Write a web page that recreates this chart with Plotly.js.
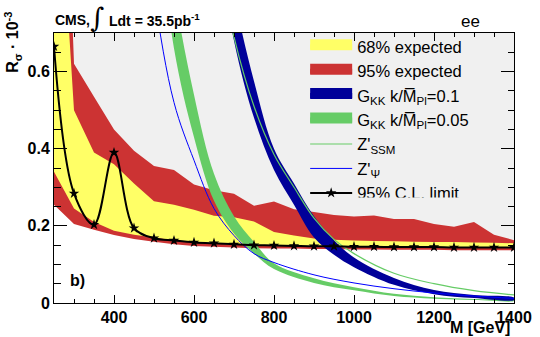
<!DOCTYPE html>
<html>
<head>
<meta charset="utf-8">
<script src="https://cdn.plot.ly/plotly-3.0.1.min.js"></script>
<style>
  html, body { margin: 0; padding: 0; background: white; }
  #chart { width: 540px; height: 337px; }
</style>
</head>
<body>
<div id="chart"></div>
<script>
// observed 95% CL limit (ee channel)
var obsMass  = [250, 300, 350, 400, 450, 500, 550, 600, 650, 700, 750, 800, 850, 900, 950, 1000, 1050, 1100, 1150, 1200, 1250, 1300, 1350, 1400];
var obsLimit = [0.665, 0.284, 0.203, 0.39, 0.194, 0.168, 0.162, 0.157, 0.155, 0.152, 0.150, 0.149, 0.148, 0.147, 0.147, 0.146, 0.146, 0.145, 0.145, 0.145, 0.144, 0.144, 0.144, 0.144];

// expected limit bands
var expMass = [250, 300, 350, 400, 450, 500, 550, 600, 650, 700, 750, 800, 850, 900, 950, 1000, 1050, 1100, 1150, 1200, 1250, 1300, 1350, 1400];
var exp95Hi = [2.0, 0.62, 0.535, 0.45, 0.395, 0.355, 0.345, 0.307, 0.292, 0.283, 0.252, 0.263, 0.243, 0.236, 0.228, 0.224, 0.227, 0.218, 0.218, 0.205, 0.198, 0.21, 0.177, 0.163];
var exp68Hi = [1.33, 0.50, 0.39, 0.36, 0.31, 0.264, 0.255, 0.242, 0.226, 0.222, 0.211, 0.184, 0.175, 0.167, 0.164, 0.162, 0.161, 0.16, 0.159, 0.158, 0.158, 0.157, 0.156, 0.155];
var exp68Lo = [0.34, 0.245, 0.21, 0.187, 0.177, 0.17, 0.163, 0.157, 0.154, 0.151, 0.149, 0.148, 0.147, 0.147, 0.146, 0.146, 0.145, 0.145, 0.145, 0.145, 0.144, 0.144, 0.144, 0.144];
var exp95Lo = [0.255, 0.205, 0.19, 0.176, 0.166, 0.159, 0.152, 0.148, 0.146, 0.144, 0.142, 0.141, 0.141, 0.14, 0.14, 0.139, 0.139, 0.138, 0.138, 0.138, 0.137, 0.137, 0.137, 0.137];

// RS graviton k/Mpl = 0.05
var gkk05Mass = [500, 550, 600, 650, 700, 750, 800, 900, 1000, 1100, 1200, 1300, 1400];
var gkk05Lo   = [1.1, 0.66, 0.43, 0.265, 0.18, 0.128, 0.088, 0.052, 0.033, 0.018, 0.011, 0.0075, 0.005];
var gkk05Hi   = [1.35, 0.82, 0.54, 0.335, 0.225, 0.158, 0.103, 0.064, 0.041, 0.024, 0.015, 0.0105, 0.007];

// RS graviton k/Mpl = 0.1
var gkk01Mass = [600, 650, 700, 750, 800, 850, 900, 950, 1000, 1100, 1200, 1300, 1400];
var gkk01Lo   = [1.45, 1.0, 0.68, 0.48, 0.345, 0.255, 0.17, 0.125, 0.093, 0.047, 0.023, 0.013, 0.008];
var gkk01Hi   = [1.6, 1.12, 0.80, 0.575, 0.40, 0.31, 0.225, 0.163, 0.118, 0.065, 0.034, 0.021, 0.014];

// Z' models
var ssmMass = [600, 650, 700, 750, 800, 850, 900, 950, 1000, 1100, 1200, 1300, 1400];
var ssmXsec = [1.35, 0.95, 0.69, 0.51, 0.385, 0.30, 0.22, 0.165, 0.128, 0.077, 0.05, 0.032, 0.021];
var psiMass = [450, 500, 550, 600, 650, 700, 750, 800, 900, 1000, 1100, 1200, 1300, 1400];
var psiXsec = [1.2, 0.8, 0.52, 0.37, 0.245, 0.175, 0.128, 0.105, 0.073, 0.052, 0.037, 0.026, 0.018, 0.012];

var FONT = 'Liberation Sans, Arial, Helvetica, sans-serif';

function band(xs, lo, hi) {
  // closed polygon: upper edge forward, lower edge back
  return {
    x: xs.concat(xs.slice().reverse()),
    y: hi.concat(lo.slice().reverse())
  };
}

function legendSwatch(name, color, rank) {
  return {
    x: [null], y: [null], type: 'scatter', mode: 'lines',
    fill: 'toself', fillcolor: color,
    line: {color: color, width: 10},
    name: name, legendrank: rank, hoverinfo: 'skip'
  };
}

var b95 = band(expMass, exp95Lo, exp95Hi);
var b68 = band(expMass, exp68Lo, exp68Hi);
var g05 = band(gkk05Mass, gkk05Lo, gkk05Hi);
var g01 = band(gkk01Mass, gkk01Lo, gkk01Hi);

var traces = [
  // white area below the observed limit (excluded region stays grey)
  {
    x: obsMass, y: obsLimit, type: 'scatter', mode: 'lines',
    fill: 'tozeroy', fillcolor: 'white',
    line: {width: 0, shape: 'spline', color: 'white'},
    showlegend: false, hoverinfo: 'skip'
  },
  {
    x: b95.x, y: b95.y, type: 'scatter', mode: 'none',
    fill: 'toself', fillcolor: '#cc3333', showlegend: false
  },
  {
    x: b68.x, y: b68.y, type: 'scatter', mode: 'none',
    fill: 'toself', fillcolor: '#ffff66', showlegend: false
  },
  {
    x: g05.x, y: g05.y, type: 'scatter', mode: 'lines',
    fill: 'toself', fillcolor: '#66cc66',
    line: {width: 0, shape: 'spline', color: '#66cc66'}, showlegend: false
  },
  {
    x: g01.x, y: g01.y, type: 'scatter', mode: 'lines',
    fill: 'toself', fillcolor: '#000099',
    line: {width: 0, shape: 'spline', color: '#000099'}, showlegend: false
  },
  {
    x: ssmMass, y: ssmXsec, type: 'scatter', mode: 'lines',
    line: {color: '#66cc66', width: 1.2, shape: 'spline'},
    name: "Z'<sub>SSM</sub>", legendrank: 5
  },
  {
    x: psiMass, y: psiXsec, type: 'scatter', mode: 'lines',
    line: {color: '#0000ff', width: 1, shape: 'spline'},
    name: "Z'<sub>Ψ</sub>", legendrank: 6
  },
  {
    x: obsMass, y: obsLimit, type: 'scatter', mode: 'lines+markers',
    line: {color: 'black', width: 2, shape: 'spline'},
    marker: {symbol: 'star', size: 8, color: 'black'},
    name: '95% C.L. limit', legendrank: 7
  },
  legendSwatch('68% expected', '#ffff66', 1),
  legendSwatch('95% expected', '#cc3333', 2),
  legendSwatch('G<sub>KK</sub> k/M\u0305<sub>Pl</sub>=0.1', '#000099', 3),
  legendSwatch('G<sub>KK</sub> k/M\u0305<sub>Pl</sub>=0.05', '#66cc66', 4)
];

var tickFont = {family: FONT, size: 16, weight: 'bold', color: 'black'};

var layout = {
  width: 540,
  height: 337,
  margin: {l: 54, r: 26, t: 33, b: 34},
  paper_bgcolor: 'white',
  plot_bgcolor: '#f0f0f0',
  showlegend: true,
  legend: {
    x: 0.546, y: 1.015, xanchor: 'left', yanchor: 'top',
    bgcolor: 'rgba(0,0,0,0)',
    font: {family: FONT, size: 16.5, color: 'black'},
    itemwidth: 42,
    tracegroupgap: 0
  },
  xaxis: {
    range: [250, 1400],
    tick0: 0, dtick: 200,
    ticks: 'inside', ticklen: 8, tickcolor: 'black',
    minor: {dtick: 50, tick0: 0, ticks: 'inside', ticklen: 4, tickcolor: 'black', showgrid: false},
    showline: true, mirror: 'allticks', linecolor: 'black', linewidth: 1,
    showgrid: false, zeroline: false,
    tickfont: tickFont
  },
  yaxis: {
    range: [0, 0.7],
    tick0: 0, dtick: 0.2,
    ticks: 'inside', ticklen: 13, tickcolor: 'black',
    minor: {dtick: 0.05, tick0: 0, ticks: 'inside', ticklen: 6.5, tickcolor: 'black', showgrid: false},
    showline: true, mirror: 'allticks', linecolor: 'black', linewidth: 1,
    showgrid: false, zeroline: false,
    tickfont: tickFont
  },
  annotations: [
    {text: 'M [GeV]', xref: 'paper', yref: 'paper', x: 0.994, y: -0.092,
     xanchor: 'right', yanchor: 'middle', showarrow: false, borderpad: 0,
     font: {family: FONT, size: 16, weight: 'bold', color: 'black'}},
    {text: 'R<sub>σ</sub> · 10<sup>-3</sup>', xref: 'paper', yref: 'paper', x: -0.091, y: 1.085,
     xanchor: 'center', yanchor: 'top', textangle: -90, showarrow: false,
     font: {family: FONT, size: 16, weight: 'bold', color: 'black'}},
    {text: 'CMS,', xref: 'paper', yref: 'paper', x: -0.002, y: 1.048,
     xanchor: 'left', yanchor: 'middle', showarrow: false,
     font: {family: FONT, size: 14, weight: 'bold', color: 'black'}},
    {text: '∫', xref: 'paper', yref: 'paper', x: 0.0935, y: 1.056,
     xanchor: 'center', yanchor: 'middle', showarrow: false, borderpad: 0,
     font: {family: 'DejaVu Serif, serif', size: 27, color: 'black'}},
    {text: 'Ldt = 35.5pb<sup>-1</sup>', xref: 'paper', yref: 'paper', x: 0.115, y: 1.048,
     xanchor: 'left', yanchor: 'middle', showarrow: false,
     font: {family: FONT, size: 14, weight: 'bold', color: 'black'}},
    {text: 'ee', xref: 'paper', yref: 'paper', x: 0.9065, y: 1.041,
     xanchor: 'center', yanchor: 'middle', showarrow: false,
     font: {family: FONT, size: 17, color: 'black'}},
    {text: 'b)', xref: 'paper', yref: 'paper', x: 0.05, y: 0.085,
     xanchor: 'center', yanchor: 'middle', showarrow: false,
     font: {family: FONT, size: 16, weight: 'bold', color: 'black'}}
  ]
};

Plotly.newPlot('chart', traces, layout, {displayModeBar: false, staticPlot: true});
</script>
</body>
</html>
